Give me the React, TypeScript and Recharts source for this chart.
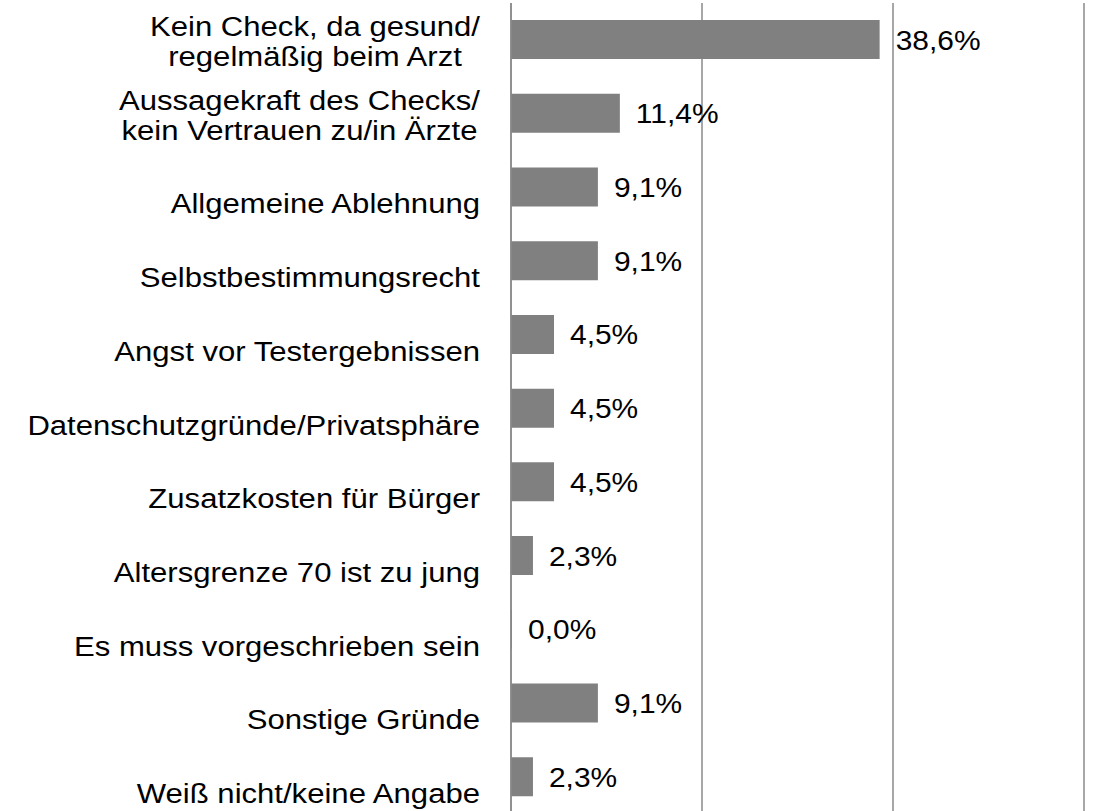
import React from "react";
import { BarChart, Bar, XAxis, YAxis, CartesianGrid, LabelList } from "recharts";

const categories = [
  "Kein Check, da gesund/\nregelmäßig beim Arzt",
  "Aussagekraft des Checks/\nkein Vertrauen zu/in Ärzte",
  "Allgemeine Ablehnung",
  "Selbstbestimmungsrecht",
  "Angst vor Testergebnissen",
  "Datenschutzgründe/Privatsphäre",
  "Zusatzkosten für Bürger",
  "Altersgrenze 70 ist zu jung",
  "Es muss vorgeschrieben sein",
  "Sonstige Gründe",
  "Weiß nicht/keine Angabe",
];
const shares = [38.6, 11.4, 9.1, 9.1, 4.5, 4.5, 4.5, 2.3, 0.0, 9.1, 2.3];
const xTicks = [0, 20, 40, 60];

const data = categories.map((name, i) => ({ name, value: shares[i] }));

const FONT = "'Liberation Sans', Arial, sans-serif";
const FONT_SIZE = 28;
// the source image is a little stretched horizontally
const CAT_STRETCH = 1.11;
const VAL_STRETCH = 1.07;

let ctx: CanvasRenderingContext2D | null = null;
const measure = (s: string) => {
  if (!ctx) ctx = document.createElement("canvas").getContext("2d");
  if (!ctx) return s.length * 14;
  ctx.font = `${FONT_SIZE}px ${FONT}`;
  return ctx.measureText(s).width;
};

// category label: last line baseline sits a bit below the bar centre,
// multi-line labels are centred on the widest line, right edge at 480
const CategoryTick = (props: any) => {
  const { y, payload } = props;
  const lines = String(payload.value).split("\n");
  const right = 480;
  const lineH = 29.5;
  const lastBase = y + 26;
  if (lines.length === 1) {
    return (
      <text
        transform={`translate(${right},${lastBase}) scale(${CAT_STRETCH},1)`}
        textAnchor="end"
        fontSize={FONT_SIZE}
        fontFamily={FONT}
        fill="#000"
      >
        {lines[0]}
      </text>
    );
  }
  const maxW = Math.max(...lines.map(measure)) * CAT_STRETCH;
  const cx = right - maxW / 2;
  return (
    <text
      transform={`translate(${cx},${lastBase}) scale(${CAT_STRETCH},1)`}
      textAnchor="middle"
      fontSize={FONT_SIZE}
      fontFamily={FONT}
      fill="#000"
    >
      {lines.map((l, i) => (
        <tspan key={i} x={0} y={-(lines.length - 1 - i) * lineH}>
          {l}
        </tspan>
      ))}
    </text>
  );
};

const fmt = (v: any) => Number(v).toFixed(1).replace(".", ",") + "%";

const ValueLabel = (props: any) => {
  const { x, y, width, height, value } = props;
  const tx = Number(x) + Number(width) + 16;
  const ty = Number(y) + Number(height) / 2 + 10;
  return (
    <text
      transform={`translate(${tx},${ty}) scale(${VAL_STRETCH},1)`}
      fontSize={FONT_SIZE}
      fontFamily={FONT}
      fill="#000"
    >
      {fmt(value)}
    </text>
  );
};

export default function App() {
  return (
    <div style={{ position: "absolute", top: 0, left: 0, width: 1094, height: 811, overflow: "hidden", background: "#fff" }}>
      <BarChart
        width={1094}
        height={830}
        data={data}
        layout="vertical"
        margin={{ top: 3, right: 10, bottom: 16, left: 0 }}
        barSize={39}
      >
        <CartesianGrid horizontal={false} stroke="#8a8a8a" strokeWidth={1.5} />
        <XAxis type="number" domain={[0, 60]} ticks={xTicks} hide />
        <YAxis
          type="category"
          dataKey="name"
          width={511}
          tickLine={false}
          axisLine={{ stroke: "#8a8a8a", strokeWidth: 1.5 }}
          tick={<CategoryTick />}
          interval={0}
        />
        <Bar dataKey="value" fill="#808080" minPointSize={1} isAnimationActive={false}>
          <LabelList dataKey="value" content={<ValueLabel />} />
        </Bar>
      </BarChart>
    </div>
  );
}
